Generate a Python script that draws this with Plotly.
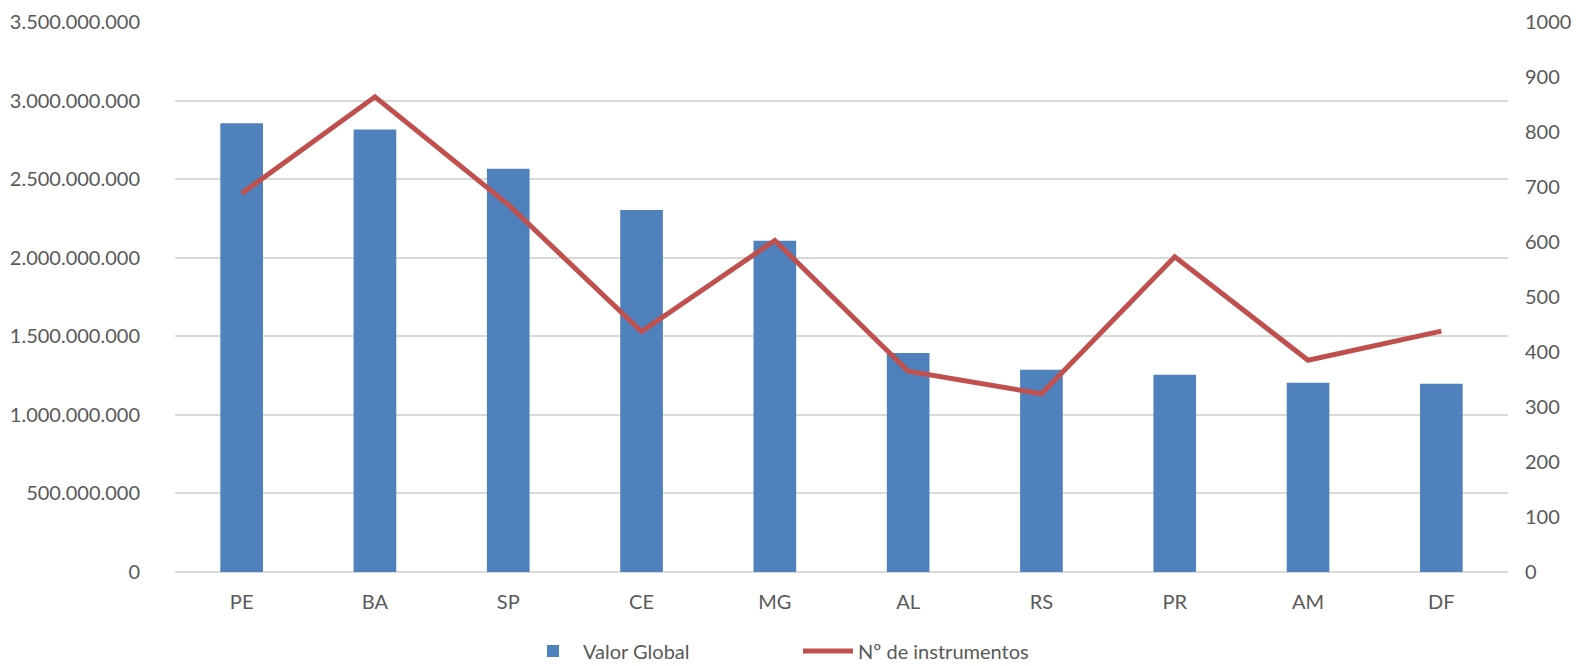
import plotly.graph_objects as go

estados = ["PE", "BA", "SP", "CE", "MG", "AL", "RS", "PR", "AM", "DF"]
valor_global = [2856000000, 2816000000, 2566000000, 2303000000, 2108000000,
                1393000000, 1287000000, 1255000000, 1204000000, 1198000000]
n_instrumentos = [688, 864, 668, 437, 603, 365, 324, 573, 385, 438]

font_family = "Lato"
grey = "#595959"

fig = go.Figure()
fig.add_trace(go.Bar(
    x=estados, y=valor_global, name="Valor Global",
    marker=dict(color="#4F81BD", line=dict(width=0)),
    yaxis="y",
))
fig.add_trace(go.Scatter(
    x=estados, y=n_instrumentos, name="Nº de instrumentos",
    mode="lines", line=dict(color="#C0504D", width=5),
    yaxis="y2",
))

fig.update_layout(
    width=1580, height=666,
    paper_bgcolor="white", plot_bgcolor="white",
    separators=",.",
    margin=dict(l=167, r=80, t=14, b=102, autoexpand=False),
    bargap=0.68,
    font=dict(family=font_family, size=20, color=grey),
    xaxis=dict(showgrid=False, showline=False, ticks="", automargin=False,
               ticklabelstandoff=16,
               tickfont=dict(size=20, color=grey)),
    yaxis=dict(range=[0, 3500000000], dtick=500000000, tickformat=",d",
               showgrid=True, gridcolor="#D9D9D9", gridwidth=1.5,
               zeroline=True, zerolinecolor="#D9D9D9", zerolinewidth=1.5,
               showline=False, ticks="", ticklabelstandoff=34, automargin=False,
               tickfont=dict(size=20, color=grey)),
    yaxis2=dict(range=[0, 1000], dtick=100, overlaying="y", side="right",
                showgrid=False, zeroline=False, showline=False, ticks="",
                ticklabelstandoff=16, automargin=False,
                tickfont=dict(size=20, color=grey)),
    legend=dict(orientation="h", x=0.5, xanchor="center", xref="container",
                y=(666 - 643) / 666, yanchor="middle", yref="container",
                font=dict(size=20, color=grey), itemwidth=50,
                entrywidth=210),
    showlegend=True,
)

fig.write_html("out.html")
